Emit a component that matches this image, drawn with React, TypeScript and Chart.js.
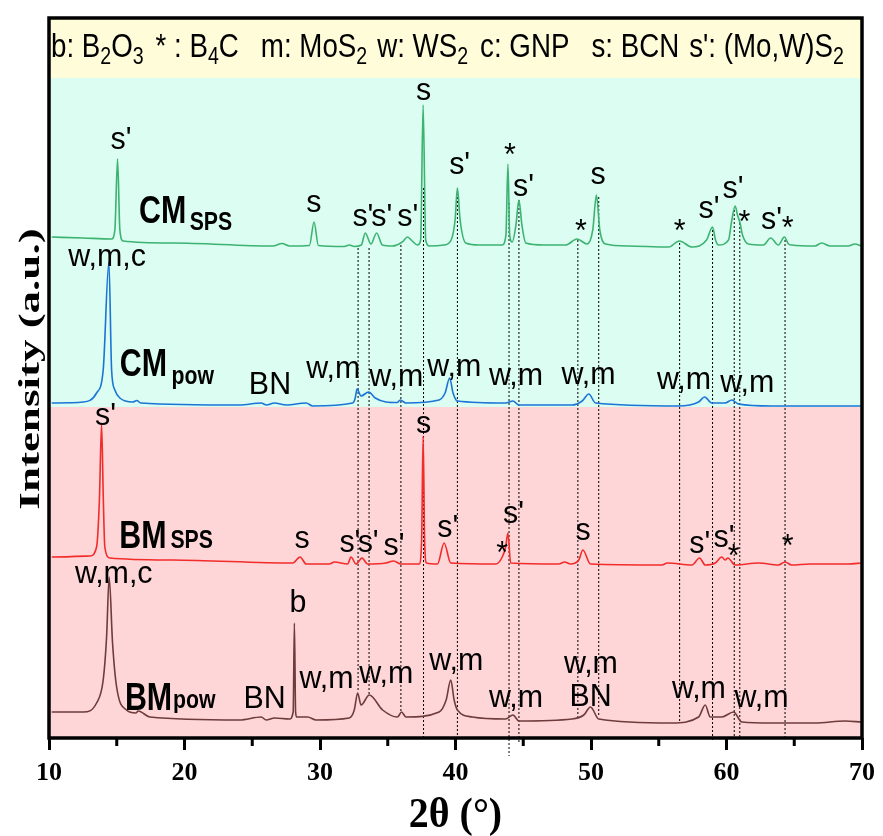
import React, { useEffect, useRef } from 'react';
import { Chart, registerables } from 'chart.js';
Chart.register(...registerables);

type P = [number, number];

// 2θ (deg), intensity (a.u., stacked offsets included)
const cmSps: P[] = [[10.2,501],[12.5,500],[14.62,499],[14.86,508],[15.06,579],[15.23,508],[15.47,497],[19.15,495],[26.52,492],[27.2,494.5],[27.75,492],[29.22,492.5],[29.56,516],[29.88,492.5],[31.8,491.5],[32.16,493],[32.53,491.5],[33.05,493],[33.34,505],[33.76,494],[34.18,505],[34.6,493],[35.35,492],[36.07,496],[36.46,501],[36.8,497],[37.2,493],[37.43,498],[37.61,633],[37.8,498],[38.06,492],[39.16,493],[39.68,498],[39.97,518],[40.14,550],[40.34,518],[40.76,495],[41.74,493],[43.45,493],[43.72,503],[43.87,574],[44.0,503],[44.19,496],[44.46,513],[44.68,538],[44.9,513],[45.18,495],[46.52,493],[48.12,493],[48.98,499],[49.71,494],[50.13,508],[50.4,543],[50.65,508],[51.07,494],[52.78,492],[55.73,491],[56.52,497],[57.45,491],[58.53,498],[58.97,511],[59.19,498],[59.41,493],[60.15,498],[60.37,516],[60.64,532],[60.81,523],[61.0,515],[61.18,503],[61.62,494],[62.72,493],[63.26,500],[63.83,493],[64.27,501],[64.57,494],[64.81,493],[66.53,492],[67.02,495],[67.64,492],[68.98,492],[69.48,494],[69.96,492]];
const cmPow: P[] = [[10.2,335],[12.53,336],[13.51,345],[14.0,368],[14.42,476],[14.62,368],[14.86,348],[15.23,340],[16.19,336],[16.48,337.5],[16.77,335],[24.06,333],[25.66,335],[26.05,333],[26.64,335],[27.5,333],[28.98,335],[29.46,332],[32.41,335],[32.6,340],[32.73,349],[33.03,342],[33.59,346],[34.08,340],[34.87,336],[35.7,335.5],[35.92,338],[36.34,335],[38.79,338],[39.23,345],[39.57,360],[39.82,345],[40.14,337],[43.7,335],[44.24,337],[44.68,333],[48.61,333],[49.35,337],[49.84,344],[50.33,335],[56.47,332],[57.94,336],[58.38,341],[58.92,335],[59.9,335],[60.39,338],[60.88,334],[63.34,332],[69.96,332]];
const bmSps: P[] = [[10.2,181],[13.02,182],[13.51,191],[13.72,238],[13.88,314],[14.01,238],[14.12,191],[14.49,180],[19.15,178],[27.99,175],[28.53,181],[28.98,174],[30.69,174],[31.06,176],[32.04,174],[32.29,181],[32.66,174],[33.1,180],[33.51,174],[34.87,175],[35.43,177],[35.97,174],[37.32,174],[37.5,198],[37.61,302],[37.72,198],[37.86,175],[38.67,174],[39.16,195],[39.65,175],[42.97,174],[43.45,181],[43.7,191],[43.87,205],[44.07,175],[47.63,174],[48.05,176],[48.49,174],[49.1,178],[49.4,188],[49.96,174],[55.24,173],[55.63,175],[57.45,173],[58.01,180],[58.43,173],[59.17,175],[59.65,181],[59.9,178],[60.1,180],[60.64,173],[62.36,175],[63.83,173],[64.32,176],[64.81,173],[66.16,174],[68.98,174],[69.96,175]];
const bmPow: P[] = [[10.2,26],[12.53,26],[13.51,35],[14.0,58],[14.25,101],[14.44,161],[14.69,95],[14.99,51],[15.72,28],[16.41,25],[16.58,27],[17.44,21],[24.06,18],[25.66,21],[26.03,18],[26.64,20],[27.75,19],[28.02,26],[28.11,115],[28.2,26],[28.28,21],[29.09,21],[29.71,18],[32.16,20],[32.53,28],[32.78,45],[33.03,33],[33.64,43],[34.62,28],[35.72,21],[36.02,26],[36.34,21],[38.79,26],[39.31,38],[39.65,58],[39.9,38],[40.14,28],[41.25,21],[43.7,19],[44.24,23],[44.68,17],[48.61,19],[49.47,23],[49.96,31],[50.57,19],[55.97,15],[57.94,21],[58.43,33],[58.8,21],[59.65,21],[60.52,26],[61.13,16],[63.34,15],[66.53,15],[68.74,17],[69.96,16]];

const seriesColors = ['#3cb371', '#1a75d6', '#f22b2b', '#6e3c3c'];

// dotted reference lines: 2θ, top, bottom
const refLines: [number, number, number][] = [[32.81,490,46],[33.62,490,44],[35.97,493,27],[37.64,550,0],[40.14,545,0],[43.95,535,-18],[44.68,538,-5],[49.03,498,20],[50.57,541,21],[56.54,495,16],[58.97,508,-2],[60.57,528,0],[60.98,515,0],[64.32,498,0]];

// background bands: top, bottom, colour
const bands: [number, number, string][] = [[720,660,'#fefcd9'],[660,331,'#dcfdf2'],[331,0,'#ffd6d7']];

const xMajor = [10, 20, 30, 40, 50, 60, 70];
const xMinor = [15, 25, 35, 45, 55, 65];

// peak labels: text, 2θ (left edge), intensity (baseline)
const peakLabels: [string, number, number][] = [
  ["s'",14.54,589],["s",28.98,526],["s'",32.39,512],["s'",33.78,512],["s'",35.7,512],["s",37.08,638],["s'",39.53,564],["*",43.58,573],["s'",44.24,542],["*",48.81,497],["s",49.96,554],["*",56.1,497],["s'",57.94,520],["s'",59.71,540],["*",60.88,506],["s'",62.55,509],["*",64.07,500],
  ["w,m,c",11.42,472],["BN",24.75,344],["w,m",28.98,360],["w,m",33.64,352],["w,m",37.91,362],["w,m",42.47,353],["w,m",47.83,354],["w,m",54.87,349],["w,m",59.54,346],
  ["s'",13.39,313],["s",28.11,190],["s'",31.43,186],["s'",32.78,186],["s'",34.69,183],["s",37.08,305],["s'",38.65,201],["*",43.01,175],["s'",43.5,215],["s",48.86,198],["s'",57.25,185],["s'",59.04,191],["*",60.1,172],["*",64.07,182],
  ["w,m,c",11.91,155],["BN",24.36,30],["b",27.75,126],["w,m",28.48,50],["w,m",32.9,55],["w,m",38.06,68],["w,m",42.47,31],["w,m",48.0,65],["BN",48.42,32],["w,m",55.97,40],["w,m",60.59,31]
];

// sample names: text, 2θ, intensity, subscript?
const sampleLabels: [string, number, number, number][] = [
  ["CM",16.65,515,0],["SPS",20.38,508,1],
  ["CM",15.23,362,0],["pow",19.04,354,1],
  ["BM",15.18,190,0],["SPS",18.96,190,1],
  ["BM",15.6,28,0],["pow",19.15,30,1]
];

// legend row: segments [text, subscript?]
const legendItems: [string, number][][] = [
  [["b: B",0],["2",1],["O",0],["3",1]],
  [["* : B",0],["4",1],["C",0]],
  [["m: MoS",0],["2",1]],
  [["w: WS",0],["2",1]],
  [["c: GNP",0]],
  [["s: BCN",0]],
  [["s': (Mo,W)S",0],["2",1]]
];
const legendY = 681;

const xTitle = '2θ (°)';
const yTitle = 'Intensity (a.u.)';

function drawScaled(ctx: CanvasRenderingContext2D, text: string, x: number, y: number, font: string, sx: number) {
  ctx.save();
  ctx.translate(x, y);
  ctx.scale(sx, 1);
  ctx.font = font;
  ctx.fillText(text, 0, 0);
  const w = ctx.measureText(text).width * sx;
  ctx.restore();
  return w;
}

const decor = {
  id: 'decor',
  beforeDatasetsDraw(chart: any) {
    const { ctx, chartArea: a, scales } = chart;
    const y = scales.y;
    ctx.save();
    for (const [t, b, c] of bands) {
      const y1 = y.getPixelForValue(t);
      const y2 = y.getPixelForValue(b);
      ctx.fillStyle = c;
      ctx.fillRect(a.left, y1, a.right - a.left, y2 - y1);
    }
    ctx.restore();
  },
  afterDatasetsDraw(chart: any) {
    const { ctx, chartArea: a, scales } = chart;
    const xs = scales.x, ys = scales.y;
    ctx.save();
    ctx.fillStyle = '#000';
    ctx.textAlign = 'left';
    ctx.textBaseline = 'alphabetic';
    for (const [t, x, y] of peakLabels) {
      drawScaled(ctx, t, xs.getPixelForValue(x), ys.getPixelForValue(y), '32px "Liberation Sans", Arial, sans-serif', 0.95);
    }
    for (const [t, x, y, sub] of sampleLabels) {
      drawScaled(ctx, t, xs.getPixelForValue(x), ys.getPixelForValue(y),
        sub ? 'bold 25px "Liberation Sans", Arial, sans-serif' : 'bold 38px "Liberation Sans", Arial, sans-serif', sub ? 0.85 : 0.8);
    }
    // legend row, laid out left to right
    const gaps = [12, 22, 10, 12, 22, 10];
    let px = a.left + 2;
    const py = ys.getPixelForValue(legendY);
    legendItems.forEach((item, i) => {
      for (const [t, sub] of item) {
        px += drawScaled(ctx, t, px, sub ? py + 7 : py,
          sub ? '24px "Liberation Sans", Arial, sans-serif' : '34px "Liberation Sans", Arial, sans-serif', 0.815);
      }
      px += gaps[i] || 0;
    });
    // frame
    ctx.strokeStyle = '#000';
    ctx.lineWidth = 3.5;
    ctx.strokeRect(a.left, a.top, a.right - a.left, a.bottom - a.top);
    // minor ticks
    ctx.lineWidth = 3;
    for (const v of xMinor) {
      const mx = xs.getPixelForValue(v);
      ctx.beginPath();
      ctx.moveTo(mx, a.bottom);
      ctx.lineTo(mx, a.bottom + 8);
      ctx.stroke();
    }
    // axis titles
    ctx.textAlign = 'center';
    ctx.save();
    ctx.translate((a.left + a.right) / 2, 827);
    ctx.scale(0.95, 1);
    ctx.font = 'bold 42px "Liberation Serif", "Times New Roman", serif';
    ctx.fillText(xTitle, 0, 0);
    ctx.restore();
    ctx.save();
    ctx.translate(39, 369);
    ctx.rotate(-Math.PI / 2);
    ctx.scale(1.5, 1);
    ctx.font = 'bold 30px "Liberation Serif", "Times New Roman", serif';
    ctx.fillText(yTitle, 0, 0);
    ctx.restore();
    ctx.restore();
  }
};

export default function App() {
  const ref = useRef<HTMLCanvasElement>(null);
  useEffect(() => {
    const canvas = ref.current!;
    const series = [cmSps, cmPow, bmSps, bmPow];
    const datasets: any[] = series.map((s, i) => ({
      data: s.map(([x, y]) => ({ x, y })),
      borderColor: seriesColors[i],
      borderWidth: 1.6,
      pointRadius: 0,
      cubicInterpolationMode: 'monotone',
      fill: false,
      order: 0,
    }));
    for (const [x, t, b] of refLines) {
      datasets.push({
        data: [{ x, y: t }, { x, y: b }],
        borderColor: '#000',
        borderWidth: 1,
        borderDash: [2, 2],
        pointRadius: 0,
        fill: false,
        order: 1,
        clip: false,
      });
    }
    const chart = new Chart(canvas, {
      type: 'line',
      data: { datasets },
      options: {
        responsive: false,
        animation: false,
        devicePixelRatio: 1,
        layout: { padding: { left: 49, right: 19, top: 18, bottom: 0 } },
        plugins: { legend: { display: false }, tooltip: { enabled: false } },
        scales: {
          x: {
            type: 'linear',
            min: 10,
            max: 70,
            afterBuildTicks: (scale: any) => { scale.ticks = xMajor.map((v) => ({ value: v })); },
            afterFit: (scale: any) => { scale.height = 98; },
            border: { display: false },
            grid: { drawOnChartArea: false, drawTicks: true, tickLength: 12, tickWidth: 3, tickColor: '#000' },
            ticks: {
              color: '#000',
              padding: 8,
              maxRotation: 0,
              autoSkip: false,
              font: { family: '"Liberation Serif", "Times New Roman", serif', weight: 'bold', size: 26 },
              callback: (v: any) => String(v),
            },
          },
          y: { display: false, min: 0, max: 720 },
        },
      } as any,
      plugins: [decor],
    });
    return () => chart.destroy();
  }, []);
  return (
    <div style={{ position: 'absolute', left: 0, top: 0, width: 883, height: 836, background: '#fff' }}>
      <canvas ref={ref} width={883} height={836} style={{ display: 'block', width: 883, height: 836 }} />
    </div>
  );
}
